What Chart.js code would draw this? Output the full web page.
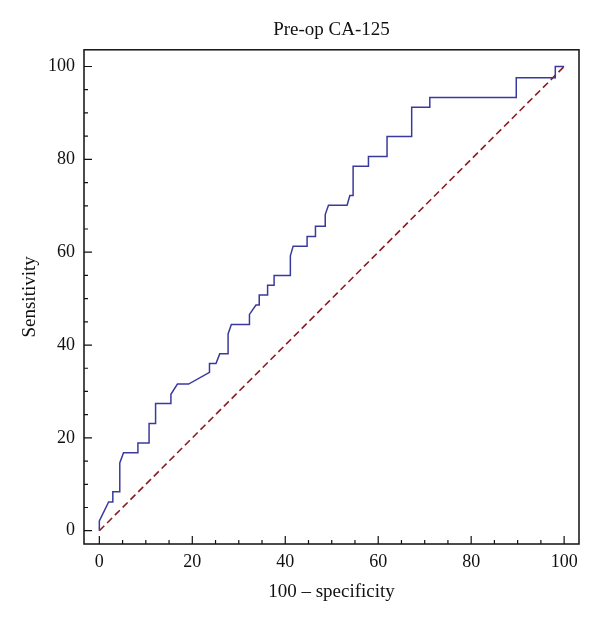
<!DOCTYPE html>
<html>
<head>
<meta charset="utf-8">
<script src="https://cdn.jsdelivr.net/npm/chart.js@4"></script>
<style>
  html, body { margin: 0; padding: 0; background: #fff; }
</style>
</head>
<body>
<canvas id="roc" width="600" height="624"></canvas>
<script>
// ROC curve (100 - specificity, sensitivity)
const specX = [0, 0, 2, 2.9, 2.9, 4.4, 4.4, 5.2, 8.3, 8.3, 10.7, 10.7, 12.1, 12.1, 15.4, 15.4, 16.8, 19.2,
  23.7, 23.7, 25.1, 25.9, 27.7, 27.7, 28.4, 32.3, 32.3, 33.7, 34.4, 34.4, 36.2, 36.2, 37.6, 37.6,
  41.1, 41.1, 41.7, 44.7, 44.7, 46.5, 46.5, 48.6, 48.6, 49.3, 53.3, 53.9, 54.6, 54.6, 57.9, 57.9,
  61.9, 61.9, 67.2, 67.2, 71.1, 71.1, 89.7, 89.7, 98.1, 98.1, 100];
const sensY = [0, 2.1, 6.2, 6.2, 8.4, 8.4, 14.6, 16.8, 16.8, 18.9, 18.9, 23.1, 23.1, 27.4, 27.4, 29.4, 31.6, 31.6,
  34.1, 36.0, 36.0, 38.1, 38.1, 42.4, 44.4, 44.4, 46.6, 48.6, 48.6, 50.8, 50.8, 52.9, 52.9, 55.0,
  55.0, 59.2, 61.3, 61.3, 63.4, 63.4, 65.6, 65.6, 68.1, 70.1, 70.1, 72.2, 72.2, 78.5, 78.5, 80.6,
  80.6, 84.9, 84.9, 91.2, 91.2, 93.3, 93.3, 97.6, 97.6, 100, 100];
const refX = [0, 100];
const refY = [0, 100];
const majorTicks = [0, 20, 40, 60, 80, 100];
const minorTicks = [0, 5, 10, 15, 20, 25, 30, 35, 40, 45, 50, 55, 60, 65, 70, 75, 80, 85, 90, 95, 100];

const serif = 'Liberation Serif';

// frame round the plot with short inward ticks
const frameTicks = {
  id: 'frameTicks',
  afterDraw(chart) {
    const { ctx, chartArea: a, scales } = chart;
    ctx.save();
    ctx.strokeStyle = '#111';
    ctx.lineWidth = 1.5;
    ctx.strokeRect(a.left, a.top, a.right - a.left, a.bottom - a.top);
    ctx.lineWidth = 1.2;
    ctx.beginPath();
    minorTicks.forEach(v => {
      const len = majorTicks.includes(v) ? 8 : 4;
      const px = scales.x.getPixelForValue(v);
      ctx.moveTo(px, a.bottom);
      ctx.lineTo(px, a.bottom - len);
      const py = scales.y.getPixelForValue(v);
      ctx.moveTo(a.left, py);
      ctx.lineTo(a.left + len, py);
    });
    ctx.stroke();
    ctx.restore();
  }
};

new Chart(document.getElementById('roc'), {
  type: 'line',
  data: {
    datasets: [
      {
        data: specX.map((x, i) => ({ x: x, y: sensY[i] })),
        borderColor: '#3a3a9e',
        borderWidth: 1.5,
        pointRadius: 0,
        tension: 0
      },
      {
        data: refX.map((x, i) => ({ x: x, y: refY[i] })),
        borderColor: '#8c1c24',
        borderWidth: 1.6,
        borderDash: [7, 4],
        pointRadius: 0
      }
    ]
  },
  options: {
    responsive: false,
    animation: false,
    layout: { padding: { top: 0, right: 21, bottom: 0, left: 0 } },
    plugins: {
      legend: { display: false },
      tooltip: { enabled: false },
      title: {
        display: true,
        fullSize: false,
        text: 'Pre-op CA-125',
        color: '#111',
        font: { family: serif, size: 19, weight: 'normal' },
        padding: { top: 19, bottom: 8 }
      }
    },
    scales: {
      x: {
        type: 'linear',
        min: -3.3,
        max: 103.2,
        afterBuildTicks: s => { s.ticks = majorTicks.map(v => ({ value: v })); },
        afterFit: s => { s.height = 80; },
        grid: { display: false, drawTicks: false },
        border: { display: false },
        ticks: { color: '#111', padding: 7, font: { family: serif, size: 18 } },
        title: {
          display: true,
          text: '100 \u2013 specificity',
          color: '#111',
          font: { family: serif, size: 19 },
          padding: { top: 0, bottom: 21 }
        }
      },
      y: {
        type: 'linear',
        min: -2.86,
        max: 103.6,
        afterBuildTicks: s => { s.ticks = majorTicks.map(v => ({ value: v })); },
        afterFit: s => { s.width = 84; },
        grid: { display: false, drawTicks: false },
        border: { display: false },
        ticks: { color: '#111', padding: 9, font: { family: serif, size: 18 } },
        title: {
          display: true,
          text: 'Sensitivity',
          color: '#111',
          font: { family: serif, size: 19 },
          padding: { top: 19, bottom: 0 }
        }
      }
    }
  },
  plugins: [frameTicks]
});
</script>
</body>
</html>
